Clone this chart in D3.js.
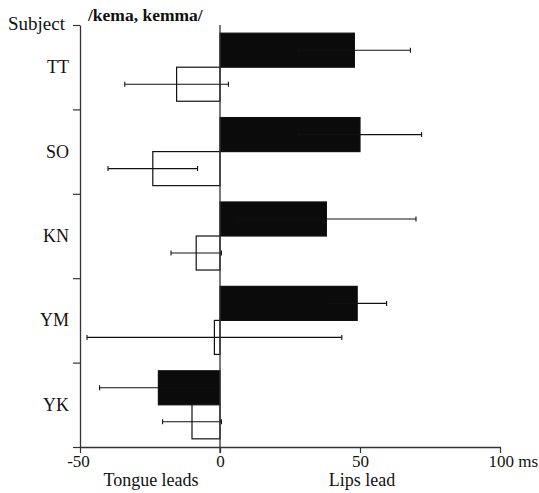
<!DOCTYPE html>
<html>
<head>
<meta charset="utf-8">
<script src="https://cdn.jsdelivr.net/npm/d3@7"></script>
<style>
  html, body { margin: 0; padding: 0; background: #fff; }
  svg { display: block; }
  svg text { font-family: "Liberation Serif", "Times New Roman", serif; }
</style>
</head>
<body>
<svg id="chart" width="539" height="493"></svg>
<script>
// Subjects and mean lead times (ms): positive = lips lead, negative = tongue leads
const subjects = ["TT", "SO", "KN", "YM", "YK"];
const lipsMean = [48, 50, 38, 49, -22];
const lipsSD = [20, 22, 32, 10.5, 21];
const tongueMean = [-15.5, -24, -8.5, -2, -10];
const tongueSD = [18.5, 16, 9, 45.5, 10.5];
const xTicks = [-50, 0, 50, 100];

const serif = "Liberation Serif";
const svg = d3.select("#chart");
const ink = "#111";

const x = d3.scaleLinear().domain([-50, 100]).range([80, 500]);
const y = d3.scaleBand().domain(subjects).range([25, 447]).paddingInner(0).paddingOuter(0);
const sub = d3.scaleBand().domain(["lips", "tongue"]).range([0, y.bandwidth()])
  .paddingInner(0).paddingOuter(0.24);

const rows = subjects.map((s, i) => ([
  { subject: s, kind: "lips", mean: lipsMean[i], sd: lipsSD[i] },
  { subject: s, kind: "tongue", mean: tongueMean[i], sd: tongueSD[i] }
])).flat();

// bars
const g = svg.append("g");
g.selectAll("rect.bar").data(rows).join("rect")
  .attr("class", "bar")
  .attr("x", d => x(Math.min(0, d.mean)))
  .attr("width", d => Math.abs(x(d.mean) - x(0)))
  .attr("y", d => y(d.subject) + sub(d.kind))
  .attr("height", sub.bandwidth())
  .attr("fill", d => d.kind === "lips" ? "#0b0b0b" : "#fff")
  .attr("stroke", ink)
  .attr("stroke-width", 1.2);

// error bars
const eb = g.selectAll("g.err").data(rows).join("g").attr("class", "err")
  .attr("transform", d => `translate(0,${y(d.subject) + sub(d.kind) + sub.bandwidth() / 2})`);
eb.append("line")
  .attr("x1", d => x(d.mean - d.sd)).attr("x2", d => x(d.mean + d.sd))
  .attr("stroke", ink).attr("stroke-width", 1.1);
eb.selectAll("line.cap").data(d => [d.mean - d.sd, d.mean + d.sd]).join("line")
  .attr("class", "cap")
  .attr("x1", v => x(v)).attr("x2", v => x(v))
  .attr("y1", -2.5).attr("y2", 2.5)
  .attr("stroke", ink).attr("stroke-width", 1.1);

// zero line
svg.append("line")
  .attr("x1", x(0)).attr("x2", x(0)).attr("y1", 25).attr("y2", 453)
  .attr("stroke", "#333").attr("stroke-width", 1.3);

// bottom axis
const xAxis = svg.append("g").attr("transform", "translate(0,447)")
  .call(d3.axisBottom(x).tickValues(xTicks).tickSize(6).tickSizeOuter(0).tickPadding(2)
    .tickFormat(d => String(d)));
xAxis.attr("font-family", serif).attr("font-size", 17);
xAxis.select(".domain").attr("stroke", "#333").attr("stroke-width", 1.3);
xAxis.selectAll(".tick line").attr("stroke", "#333").attr("stroke-width", 1.2);
xAxis.selectAll(".tick text").attr("fill", ink);
xAxis.selectAll(".tick").filter(d => d === -50).select("text").attr("x", -2);
xAxis.selectAll(".tick").filter(d => d === 100).select("text")
  .attr("text-anchor", "start").attr("x", -12)
  .append("tspan").text(" ms");

// left axis: ticks at subject boundaries
const edges = d3.scaleLinear().domain([0, subjects.length]).range([25, 447]);
const yAxis = svg.append("g").attr("transform", "translate(80,0)")
  .call(d3.axisLeft(edges).ticks(subjects.length).tickSize(7).tickSizeOuter(0).tickFormat(""));
yAxis.select(".domain").attr("stroke", "#333").attr("stroke-width", 1.3);
yAxis.selectAll(".tick line").attr("stroke", "#333").attr("stroke-width", 1.2);

// subject labels
svg.append("g").selectAll("text").data(subjects).join("text")
  .attr("x", 69).attr("y", d => y(d) + y.bandwidth() / 2 + 6)
  .attr("text-anchor", "end").attr("font-size", 18).attr("fill", ink)
  .text(d => d);

svg.append("text").attr("x", 8).attr("y", 30).attr("font-size", 19).attr("fill", ink).text("Subject");
svg.append("text").attr("x", 88).attr("y", 21).attr("font-size", 17.5).attr("font-weight", "bold")
  .attr("fill", ink).text("/kema, kemma/");

svg.append("text").attr("x", 151).attr("y", 486).attr("text-anchor", "middle")
  .attr("font-size", 18).attr("fill", ink).text("Tongue leads");
svg.append("text").attr("x", 362).attr("y", 486).attr("text-anchor", "middle")
  .attr("font-size", 18).attr("fill", ink).text("Lips lead");
</script>
</body>
</html>
